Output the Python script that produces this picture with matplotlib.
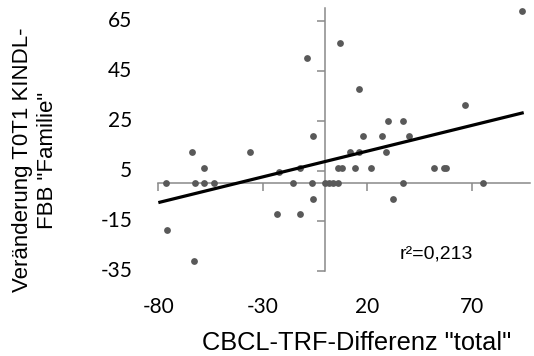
import numpy as np
import matplotlib
matplotlib.use("Agg")
import matplotlib.pyplot as plt
from matplotlib.transforms import blended_transform_factory

# data (Excel style scatter, axes cross at 0/0)
x_vals = [94, 7, -9, 16, 67, 30, 37, -6, 18, 27, 40,
          -64, -36, 12, 16, 29,
          -58, -22, -12, 6, 8, 14, 22, 52, 57, 58,
          -76.5, -62.3, -58.3, -53.4, -15.3, -6.3, -0.3, 1.7, 3.5, 6, 37, 75.5,
          -6, 32.6, -23, -12.3, -76, -63]
y_vals = [68.75, 56.25, 50, 37.5, 31.25, 25, 25, 18.75, 18.75, 18.75, 18.75,
          12.5, 12.5, 12.5, 12.5, 12.5,
          6.25, 4.5, 6.25, 6.25, 6.25, 6.25, 6.25, 6.25, 6.25, 6.25,
          0, 0, 0, 0, 0, 0, 0, 0, 0, 0, 0, 0,
          -6.25, -6.25, -12.5, -12.5, -18.75, -31.25]
x_ticks = [-80, -30, 20, 70]
y_ticks = [-35, -15, 5, 25, 45, 65]
r2_text = "r²=0,213"
x_title = 'CBCL-TRF-Differenz "total"'
y_title = 'Veränderung T0T1 KINDL-\nFBB "Familie"'

x_min, x_max = -80, 98
y_min, y_max = -35, 70

fig = plt.figure(figsize=(5.34, 3.56), dpi=100)
ax = fig.add_axes([0.2965, 0.2396, 0.696, 0.7374])
ax.set_xlim(x_min, x_max)
ax.set_ylim(y_min, y_max)

axis_col = '#898989'
for side in ['top', 'right']:
    ax.spines[side].set_visible(False)
ax.spines['left'].set_position(('data', 0))
ax.spines['bottom'].set_position(('data', 0))
for side in ['left', 'bottom']:
    ax.spines[side].set_color(axis_col)
    ax.spines[side].set_linewidth(1.1)
ax.set_xticks(x_ticks)
ax.set_yticks(y_ticks)
ax.tick_params(direction='out', length=6, width=1.1, color=axis_col,
               labelbottom=False, labelleft=False)

# points
ax.scatter(x_vals, y_vals, s=24, color='#595959', zorder=3, linewidths=0)

# linear trendline fitted from the points
k, d = np.polyfit(x_vals, y_vals, 1)
tx = np.array([x_min, max(x_vals) + 1])
ax.plot(tx, k * tx + d, color='black', lw=2.3, zorder=4, solid_capstyle='butt')

tick_font = dict(family='Lato', fontsize=15, color='black')
# y labels sit at the left edge of the plot (Excel "low" position)
ty = blended_transform_factory(ax.transAxes, ax.transData)
for v in y_ticks:
    ax.text(-0.07, v, str(v), transform=ty, ha='right', va='center', **tick_font)
tx_tr = blended_transform_factory(ax.transData, fig.transFigure)
for v in x_ticks:
    ax.text(v, 1 - 307 / 356, str(v), transform=tx_tr, ha='center', va='center', **tick_font)

ax.text(35.8, -28.3, r2_text, ha='left', va='center', family='Liberation Sans', fontsize=14)

fig.text(356.5 / 534, 1 - 343 / 356, x_title, ha='center', va='center',
         family='Liberation Sans', fontsize=18.3)
fig.text(35 / 534, 1 - 160 / 356, y_title, ha='center', va='center', rotation=90,
         family='Liberation Sans', fontsize=16, linespacing=1.3)

fig.savefig('out.png', dpi=100)
